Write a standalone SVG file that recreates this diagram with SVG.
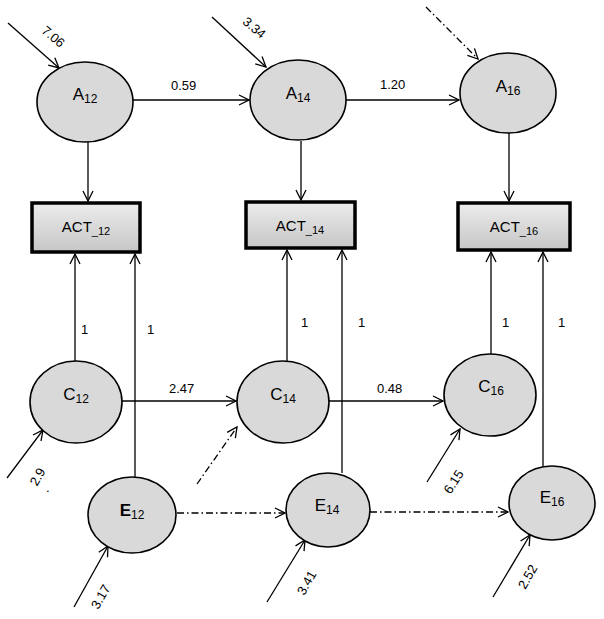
<svg xmlns="http://www.w3.org/2000/svg" width="604" height="619" viewBox="0 0 604 619">
<style>
text{font-family:"Liberation Sans",Arial,sans-serif;fill:#000}
.node ellipse{fill:#d9d9d9;stroke:#000;stroke-width:1.6}
.box rect{fill:url(#g);stroke:#000;stroke-width:3.5}
.lbl{font-size:17px;text-anchor:middle}
.act{font-size:15px;text-anchor:middle}
.num{font-size:13px}
.c line{stroke:#000;stroke-width:1.3;marker-end:url(#ah)}
.c line.dd{stroke-dasharray:7 3 1.5 3}
</style>
<defs>
<linearGradient id="g" x1="0" y1="0" x2="0" y2="1">
<stop offset="0" stop-color="#ececec"/>
<stop offset="1" stop-color="#c6c6c6"/>
</linearGradient>
<marker id="ah" viewBox="0 0 12 12" refX="11" refY="6" markerWidth="12" markerHeight="12" markerUnits="userSpaceOnUse" orient="auto">
<path d="M1,1 L11,6 L1,11" fill="none" stroke="#000" stroke-width="1.3"/>
</marker>
</defs>
<rect width="604" height="619" fill="#fff"/>
<g id="connectors" class="c">
<line x1="8" y1="23" x2="59" y2="68"/>
<line x1="212" y1="17" x2="266" y2="67"/>
<line class="dd" x1="426" y1="7" x2="478" y2="59"/>
<line x1="133" y1="100" x2="249" y2="100"/>
<line x1="346" y1="100" x2="459" y2="100"/>
<line x1="88" y1="142" x2="88" y2="201"/>
<line x1="301" y1="141" x2="301" y2="200"/>
<line x1="509" y1="133" x2="509" y2="201"/>
<line x1="75" y1="362" x2="75" y2="254"/>
<line x1="135" y1="477" x2="135" y2="254"/>
<line x1="287" y1="362" x2="287" y2="250"/>
<line x1="342" y1="473" x2="342" y2="250"/>
<line x1="491" y1="354" x2="491" y2="252"/>
<line x1="543" y1="466" x2="543" y2="252"/>
<line x1="122" y1="401" x2="236" y2="401"/>
<line x1="329" y1="401" x2="443" y2="401"/>
<line x1="7" y1="478" x2="43" y2="430"/>
<line class="dd" x1="197" y1="484" x2="237" y2="427"/>
<line x1="427" y1="482" x2="460" y2="429"/>
<line class="dd" x1="177" y1="513" x2="285" y2="513"/>
<line class="dd" x1="370" y1="512" x2="508" y2="512"/>
<line x1="74" y1="607" x2="108" y2="546"/>
<line x1="267" y1="602" x2="305" y2="540"/>
<line x1="493" y1="597" x2="530" y2="535"/>
</g>
<g id="labels">
<text class="num" transform="translate(53,37) rotate(40)" x="0" y="4" text-anchor="middle">7.06</text>
<text class="num" transform="translate(254,28) rotate(40)" x="0" y="4" text-anchor="middle">3.34</text>
<text class="num" x="171" y="90">0.59</text>
<text class="num" x="380" y="89">1.20</text>
<text class="num" x="169" y="393">2.47</text>
<text class="num" x="377" y="393">0.48</text>
<text class="num" x="81" y="334">1</text>
<text class="num" x="147" y="334">1</text>
<text class="num" x="301" y="327">1</text>
<text class="num" x="358" y="327">1</text>
<text class="num" x="502" y="327">1</text>
<text class="num" x="558" y="327">1</text>
<text class="num" transform="translate(38,477) rotate(-60)" x="0" y="4" text-anchor="middle">2.9</text>
<text class="num" x="46" y="492">.</text>
<text class="num" transform="translate(101,597) rotate(-60)" x="0" y="4" text-anchor="middle">3.17</text>
<text class="num" transform="translate(307,583) rotate(-60)" x="0" y="4" text-anchor="middle">3.41</text>
<text class="num" transform="translate(454,482) rotate(-57)" x="0" y="4" text-anchor="middle">6.15</text>
<text class="num" transform="translate(528,577) rotate(-60)" x="0" y="4" text-anchor="middle">2.52</text>
</g>
<g id="A12" class="node"><ellipse cx="85" cy="102" rx="48" ry="40"/><text class="lbl" x="85" y="100">A<tspan font-size="12" dy="3">12</tspan></text></g>
<g id="A14" class="node"><ellipse cx="298" cy="100" rx="48" ry="40"/><text class="lbl" x="298" y="99">A<tspan font-size="12" dy="3">14</tspan></text></g>
<g id="A16" class="node"><ellipse cx="508" cy="93" rx="48" ry="40"/><text class="lbl" x="508" y="92">A<tspan font-size="12" dy="3">16</tspan></text></g>
<g id="ACT12" class="box"><rect x="32" y="203" width="108" height="49"/><text class="act" x="86" y="232">ACT<tspan font-size="11" dy="3">_12</tspan></text></g>
<g id="ACT14" class="box"><rect x="246" y="202" width="109" height="46"/><text class="act" x="300" y="231">ACT<tspan font-size="11" dy="3">_14</tspan></text></g>
<g id="ACT16" class="box"><rect x="458" y="203" width="112" height="47"/><text class="act" x="514" y="232">ACT<tspan font-size="11" dy="3">_16</tspan></text></g>
<g id="C12" class="node"><ellipse cx="76" cy="402" rx="46" ry="41"/><text class="lbl" x="76" y="400">C<tspan font-size="12" dy="3">12</tspan></text></g>
<g id="C14" class="node"><ellipse cx="283" cy="402" rx="46" ry="41"/><text class="lbl" x="283" y="400">C<tspan font-size="12" dy="3">14</tspan></text></g>
<g id="C16" class="node"><ellipse cx="490" cy="395" rx="46" ry="41"/><text class="lbl" x="491" y="392">C<tspan font-size="12" dy="3">16</tspan></text></g>
<g id="E12" class="node"><ellipse cx="132" cy="515" rx="44" ry="38"/><text class="lbl" x="132" y="516"><tspan font-weight="bold">E</tspan><tspan font-size="12" dy="3">12</tspan></text></g>
<g id="E14" class="node"><ellipse cx="328" cy="510" rx="42" ry="37"/><text class="lbl" x="327" y="511">E<tspan font-size="12" dy="3">14</tspan></text></g>
<g id="E16" class="node"><ellipse cx="552" cy="503" rx="43" ry="37"/><text class="lbl" x="552" y="503">E<tspan font-size="12" dy="3">16</tspan></text></g>
</svg>
